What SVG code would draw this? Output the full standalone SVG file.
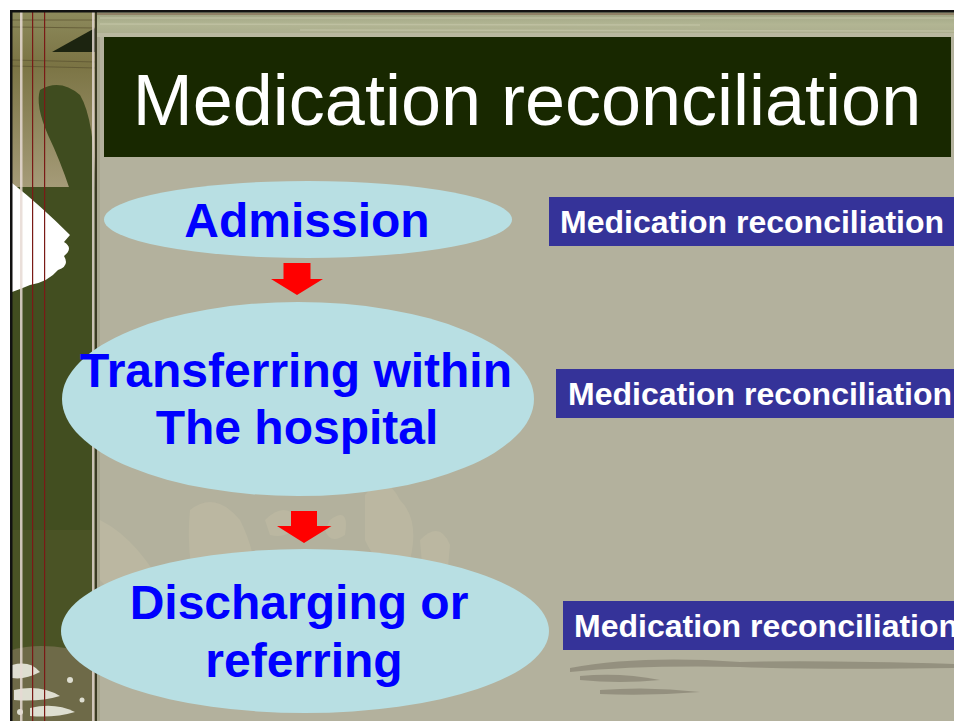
<svg xmlns="http://www.w3.org/2000/svg" width="954" height="721" viewBox="0 0 954 721">
  <style>
    .title { font-family: "Liberation Sans", Arial, sans-serif; font-size: 72px; fill: #ffffff; }
    .step { font-family: "Liberation Sans", Arial, sans-serif; font-weight: bold; font-size: 48px; fill: #0000ff; text-anchor: middle; }
    .tag { font-family: "Liberation Sans", Arial, sans-serif; font-weight: bold; font-size: 32px; fill: #ffffff; }
    .node-shape { fill: #b8dfe3; }
    .tag-box { fill: #353399; }
    .arrow { fill: #ff0000; }
  </style>
  <defs>
    <linearGradient id="topBand" x1="0" y1="0" x2="0" y2="1">
      <stop offset="0" stop-color="#9ea482"/>
      <stop offset="0.5" stop-color="#b2b593"/>
      <stop offset="1" stop-color="#a9ab8c"/>
    </linearGradient>
    <linearGradient id="leftTop" x1="0" y1="0" x2="0" y2="1">
      <stop offset="0" stop-color="#8d8a5c"/>
      <stop offset="0.3" stop-color="#7b7444"/>
      <stop offset="1" stop-color="#a59b78"/>
    </linearGradient>
  </defs>

  <!-- page and slide background -->
  <rect x="0" y="0" width="954" height="721" fill="#ffffff"/>
  <rect x="10" y="10" width="944" height="711" fill="#b3b19d"/>

  <!-- faint leaf silhouettes behind the lower steps -->
  <g fill="#c3bea5" opacity="0.5">
    <path d="M100 520 Q140 540 170 600 L120 600 L100 580 Z"/>
    <path d="M190 510 Q215 490 240 520 Q260 560 255 600 L200 600 Q185 560 190 510 Z"/>
    <path d="M365 495 Q385 470 400 500 Q420 520 410 560 Q380 575 365 540 Z"/>
    <path d="M265 520 Q285 500 300 520 Q290 540 270 535 Z"/>
    <path d="M330 520 Q350 505 345 535 Q330 545 325 530 Z"/>
    <path d="M420 540 Q440 520 450 545 L445 600 L425 600 Z"/>
  </g>

  <!-- top textured band -->
  <rect x="12" y="12" width="942" height="25" fill="url(#topBand)"/>
  <g stroke="#c7c8ab" stroke-width="1.5" opacity="0.6">
    <line x1="100" y1="18" x2="954" y2="18"/>
    <line x1="100" y1="24" x2="700" y2="25"/>
    <line x1="300" y1="30" x2="954" y2="31"/>
  </g>
  <line x1="12" y1="14" x2="954" y2="14" stroke="#6e3a2c" stroke-width="1.2" opacity="0.7"/>
  <rect x="12" y="33" width="942" height="4" fill="#b9b89f"/>

  <!-- left decorative strip -->
  <rect x="12" y="12" width="85" height="709" fill="#424e20"/>
  <rect x="12" y="12" width="85" height="175" fill="url(#leftTop)"/>
  <path d="M52 52 L95 28 L95 52 Z" fill="#1c2410"/>
  <g stroke="#5a5230" stroke-width="1" opacity="0.7">
    <line x1="12" y1="20" x2="97" y2="20"/>
    <line x1="12" y1="27" x2="97" y2="28"/>
    <line x1="12" y1="60" x2="97" y2="62"/>
    <line x1="12" y1="66" x2="97" y2="68"/>
  </g>
  <path d="M40 90 Q60 78 80 95 Q95 120 95 190 L70 190 Q60 160 48 135 Q35 105 40 90 Z" fill="#3f4c1f"/>
  <path d="M12 183 Q40 205 70 235 L64 242 Q74 248 64 256 Q70 266 58 270 Q48 282 30 285 Q18 290 12 292 Z" fill="#ffffff"/>
  <rect x="12" y="530" width="85" height="191" fill="#4a5325"/>
  <path d="M12 650 Q45 640 97 655 L97 721 L12 721 Z" fill="#6e6a48"/>
  <g fill="#ebebe0" opacity="0.9">
    <path d="M12 665 Q30 660 40 672 Q25 680 12 678 Z"/>
    <path d="M14 690 Q40 684 60 696 Q40 702 14 700 Z"/>
    <path d="M30 708 Q55 702 75 712 Q55 718 30 716 Z"/>
    <circle cx="70" cy="680" r="3"/>
    <circle cx="82" cy="700" r="2.5"/>
    <circle cx="20" cy="712" r="3"/>
  </g>
  <rect x="20" y="12" width="2.5" height="709" fill="#e6d9d4" opacity="0.85"/>
  <rect x="32" y="12" width="1.2" height="709" fill="#7a1a16"/>
  <rect x="44" y="12" width="1.2" height="709" fill="#7a1a16"/>
  <rect x="92" y="12" width="2.5" height="709" fill="#e2d6cf" opacity="0.85"/>
  <rect x="95" y="12" width="2" height="709" fill="#3a3a22"/>
  <rect x="97" y="37" width="3" height="684" fill="#a9a78f"/>

  <!-- dry-brush streak near the bottom right -->
  <g fill="#5c5548" opacity="0.35">
    <path d="M570 668 Q640 655 740 662 Q820 660 954 664 L954 668 Q820 670 740 667 Q640 665 570 672 Z"/>
    <path d="M580 676 Q620 672 660 680 Q620 684 580 680 Z"/>
    <path d="M600 690 Q650 686 700 692 Q650 696 600 694 Z"/>
  </g>

  <!-- slide frame -->
  <rect x="10" y="10" width="944" height="2.5" fill="#111111"/>
  <rect x="10" y="10" width="2.5" height="711" fill="#111111"/>

  <!-- title bar -->
  <g id="title">
    <rect x="104" y="37" width="847" height="120" fill="#182800"/>
    <text class="title" x="527" y="125" text-anchor="middle">Medication reconciliation</text>
  </g>

  <!-- flow steps -->
  <g id="admission">
    <ellipse class="node-shape" cx="308" cy="219.5" rx="204" ry="38.5"/>
    <text class="step" x="307" y="237">Admission</text>
  </g>
  <g id="transfer">
    <ellipse class="node-shape" cx="298" cy="399" rx="236" ry="97"/>
    <text class="step" x="296" y="387">Transferring within</text>
    <text class="step" x="297" y="444">The hospital</text>
  </g>
  <g id="discharge">
    <ellipse class="node-shape" cx="305" cy="631" rx="244" ry="82"/>
    <text class="step" x="299" y="619">Discharging or</text>
    <text class="step" x="304" y="677">referring</text>
  </g>

  <!-- reconciliation tags beside each step -->
  <g id="tag-admission">
    <rect class="tag-box" x="549" y="197" width="420" height="49"/>
    <text class="tag" x="560" y="233">Medication reconciliation</text>
  </g>
  <g id="tag-transfer">
    <rect class="tag-box" x="556" y="369" width="420" height="49"/>
    <text class="tag" x="568" y="405">Medication reconciliation</text>
  </g>
  <g id="tag-discharge">
    <rect class="tag-box" x="563" y="601" width="420" height="49"/>
    <text class="tag" x="574" y="637">Medication reconciliation</text>
  </g>

  <!-- connectors -->
  <g id="connectors">
    <path class="arrow" d="M283.5 263 L310.5 263 L310.5 279 L323 279 L297 295 L271 279 L283.5 279 Z"/>
    <path class="arrow" d="M291 511 L317 511 L317 526 L331.5 526 L304 543 L277 526 L291 526 Z"/>
  </g>
</svg>
